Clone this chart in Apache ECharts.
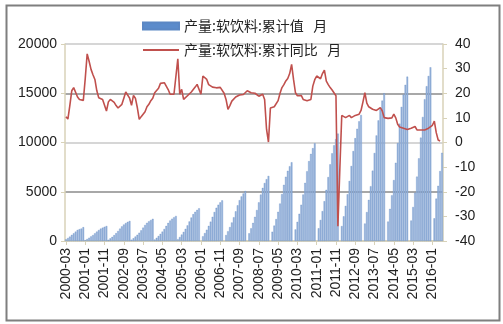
<!DOCTYPE html>
<html>
<head>
<meta charset="utf-8">
<script src="https://cdn.jsdelivr.net/npm/echarts@6/dist/echarts.min.js"></script>
<style>
html,body{margin:0;padding:0;background:#fff;}
#chart{width:503px;height:324px;}
</style>
</head>
<body>
<div id="chart"></div>
<script>
// Monthly categories from 2000-03 to 2016-06
const startYear = 2000, startMonth = 3, monthCount = 196;
const months = [];
for (let i = 0; i < monthCount; i++) {
  const m0 = startMonth - 1 + i;
  const y = startYear + Math.floor(m0 / 12);
  const m = (m0 % 12) + 1;
  months.push(y + '-' + (m < 10 ? '0' + m : '' + m));
}

const seriesNames = ['产量:软饮料:累计值   月', '产量:软饮料:累计同比   月'];

// 产量:软饮料:累计值 (left axis), one row per year
const cumValue = [
  170, 300, 440, 620, 780, 950, 1120, 1200, 1260, 1400,                 // 2000 (Mar-Dec)
  90, 200, 330, 460, 600, 780, 950, 1110, 1250, 1350, 1440, 1520,       // 2001
  120, 260, 420, 590, 790, 1010, 1250, 1480, 1670, 1820, 1940, 2030,    // 2002
  130, 280, 450, 630, 840, 1080, 1350, 1620, 1840, 2000, 2130, 2250,    // 2003
  150, 320, 510, 720, 950, 1220, 1530, 1830, 2080, 2260, 2410, 2540,    // 2004
  180, 400, 650, 920, 1230, 1580, 1980, 2380, 2720, 2960, 3150, 3320,   // 2005
  null, 480, 800, 1140, 1530, 1960, 2450, 2940, 3370, 3680, 3920, 4120, // 2006
  null, 600, 990, 1410, 1880, 2410, 3010, 3620, 4140, 4520, 4820, 5070, // 2007
  null, 780, 1290, 1830, 2450, 3140, 3920, 4710, 5390, 5880, 6270, 6600, // 2008
  null, 940, 1560, 2220, 2960, 3800, 4750, 5700, 6520, 7120, 7590, 7990, // 2009
  null, 1170, 1940, 2760, 3680, 4720, 5900, 7080, 8100, 8840, 9420, 9920, // 2010
  null, 1290, 2130, 3030, 4040, 5190, 6490, 7780, 8900, 9710, 10350, 10900, // 2011
  null, 1510, 2500, 3560, 4740, 6090, 7610, 9130, 10440, 11390, 12150, 12790, // 2012
  null, 1770, 2930, 4170, 5560, 7140, 8930, 10710, 12240, 13360, 14250, 15000, // 2013
  null, 1970, 3260, 4640, 6180, 7940, 9930, 11910, 13610, 14860, 15850, 16680, // 2014
  null, 2080, 3450, 4900, 6530, 8390, 10490, 12590, 14390, 15710, 16750, 17630, // 2015
  null, 2300, 4300, 5600, 7100, 8950                                    // 2016 (Jan-Jun)
];

// 产量:软饮料:累计同比 (%) (right axis)
const cumYoY = [
  10.5, 9.5, 15, 21, 22.3, 21.5, 18.5, 17.5, 17.2, 17.1,               // 2000
  26, 36, 33, 29.7, 27.5, 25.6, 21, 18.2, 17.8, 17.5, 17.2, 12.8,      // 2001
  16.5, 17.5, 16.8, 16.3, 15, 14, 13.7, 15.5, 18, 20.5, 20.9, 18,      // 2002
  15.1, 19.1, 18, 14.2, 9.4, 10.5, 11.5, 12.5, 14.5, 15.5, 17, 18,     // 2003
  20.2, 19.6, 22, 24, 24.7, 24.3, 23.6, 21.5, 19.6, 19.6, 19.6, 19.6,  // 2004
  34, 19.6, 21.6, 17.5, 18.2, 19, 19.6, 20.5, 21.5, 22.5, 23.6, 23.8,  // 2005
  19.6, 27, 26.3, 25.6, 23.5, 22.9, 22.5, 22.4, 22.2, 22.5, 22.4, 22.3, // 2006
  20, 17.5, 13.5, 15, 16.8, 17.6, 18.5, 19, 19.3, 19.5, 19.5, 19.6,    // 2007
  21, 21.5, 20.2, 20.6, 20, 19.5, 18.8, 18.2, 19.6, 17.5, 5.4,         // 2008 (Jan-Nov)
  0.2, 14, 14.2, 14.5, 14.8, 17, 20, 22.3, 23.5, 25, 26, 28,           // 2008-12 .. 2009-11
  31.7, 25.6, 20.2, 19, 19, 19.1, 17.5, 17.2, 17, 16.8, 17.5, 22.9,    // 2009-12 .. 2010-11
  25.5, 27, 26.5, 25.9, 28, 29.4, 24.9, 23.5, 22.3, 21.3, 21.6, 19,    // 2010-12 .. 2011-11
  -34, -11, 11, 10.5, 10.1, 10.5, 11, 10.1, 10.5, 11, 11, 11.5,        // 2011-12 .. 2012-11
  13, 16.5, 20.2, 16, 14.5, 13.8, 13.5, 12.8, 13, 13.5, 14.2, 12.8,    // 2012-12 .. 2013-11
  10.1, 10, 9.8, 9.7, 10, 11.5, 10, 7.4, 6.3, 6, 5.8, 5.6,             // 2013-12 .. 2014-11
  5.3, 5.1, 5.8, 6.3, 6.5, 5.1, 5.1, 5.1, 5.1, 5.1, 5.3, 5.8,          // 2014-12 .. 2015-11
  6.3, 7, 8.7, 4, 1, 0.6                                               // 2015-12 .. 2016-05
];

const leftTicks = { min: 0, max: 20000, interval: 5000 };
const rightTicks = { min: -40, max: 40, interval: 10 };

const axisColor = '#d8d2b8';
const labelFont = 'Liberation Sans, Arial, sans-serif';

const chart = echarts.init(document.getElementById('chart'), null, { renderer: 'canvas' });
chart.setOption({
  animation: false,
  backgroundColor: '#ffffff',
  graphic: [{
    type: 'rect', left: 4, top: 3, z: 100, silent: true,
    shape: { width: 493, height: 315 },
    style: { fill: 'none', stroke: '#7f7f7f', lineWidth: 2 }
  }],
  legend: {
    orient: 'vertical',
    left: 142, top: 18, padding: 0,
    itemWidth: 36, itemHeight: 7, itemGap: 8,
    symbolKeepAspect: true,
    textStyle: { fontFamily: 'Noto Sans CJK SC', fontSize: 14, color: '#222', lineHeight: 16 },
    data: [
      { name: seriesNames[0], icon: 'rect', itemStyle: { color: '#5b8bcb' } },
      { name: seriesNames[1], icon: 'path://M0,0H36V1.8H0Z', itemStyle: { color: '#c0504d' } }
    ]
  },
  grid: { left: 65, right: 60, top: 44, bottom: 83, containLabel: false },
  xAxis: {
    type: 'category',
    data: months,
    boundaryGap: true,
    axisLine: { lineStyle: { color: axisColor, width: 1.5 } },
    axisTick: { show: true, interval: 9, alignWithLabel: true, length: 4, lineStyle: { color: axisColor } },
    axisLabel: { interval: 9, rotate: 90, fontSize: 14, color: '#222', fontFamily: labelFont, margin: 7 },
    splitLine: { show: false }
  },
  yAxis: [{
    type: 'value',
    min: leftTicks.min, max: leftTicks.max, interval: leftTicks.interval,
    axisLine: { show: true, lineStyle: { color: axisColor, width: 1.5 } },
    axisTick: { show: true, length: 4, lineStyle: { color: axisColor } },
    axisLabel: { fontSize: 14, color: '#222', fontFamily: labelFont, margin: 8, formatter: function (v) { return String(v); } },
    splitLine: { show: true, lineStyle: { color: ['#d0d0d0', '#a8a8a8', '#d6d6d6', '#a8a8a8', '#d6d6d6'], width: 2 } }
  }, {
    type: 'value',
    min: rightTicks.min, max: rightTicks.max, interval: rightTicks.interval,
    axisLine: { show: true, lineStyle: { color: axisColor, width: 1.5 } },
    axisTick: { show: true, length: 4, lineStyle: { color: axisColor } },
    axisLabel: { fontSize: 14, color: '#222', fontFamily: labelFont, margin: 12, formatter: function (v) { return String(v); } },
    splitLine: { show: false }
  }],
  series: [{
    name: seriesNames[0],
    type: 'bar',
    data: cumValue,
    barCategoryGap: '15%',
    itemStyle: { color: '#9ab4da', borderColor: '#5b87c4', borderWidth: 0.3 },
    z: 2
  }, {
    name: seriesNames[1],
    type: 'line',
    yAxisIndex: 1,
    data: cumYoY,
    symbol: 'none',
    connectNulls: true,
    lineStyle: { color: '#c0504d', width: 1.6 },
    itemStyle: { color: '#c0504d' },
    z: 3
  }]
});
</script>
</body>
</html>
